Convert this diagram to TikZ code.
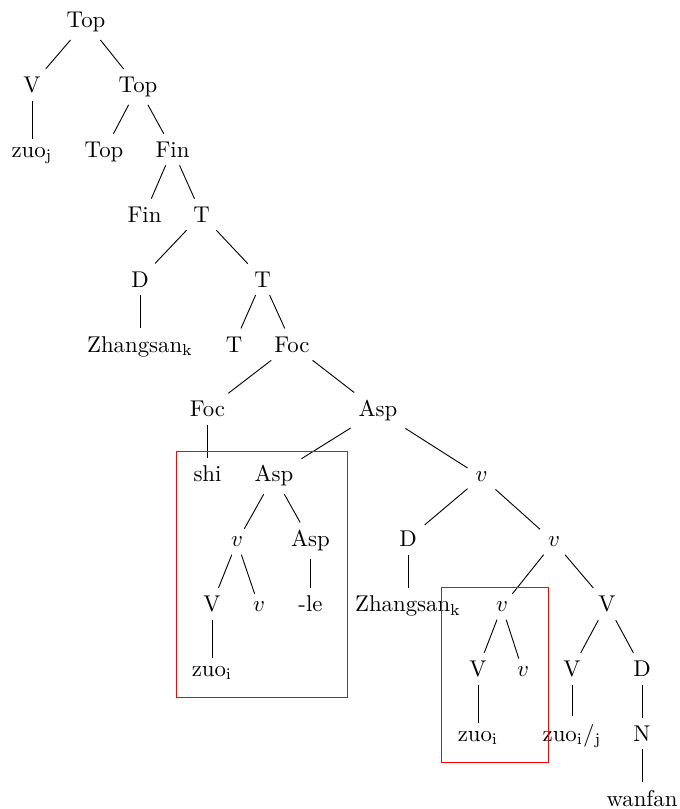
\documentclass[tikz,border=0pt]{standalone}
\usepackage{tikz}

\begin{document}
\begin{tikzpicture}[x=0.4386pt, y=-0.4386pt,
    cat/.style={anchor=base},
    box/.style={draw=red, line width=0.4pt}]
    \useasboundingbox (0,0) rectangle (679,809);
    % levels 0 - 6
    \node[cat] (top0) at (86,27.5) {Top};
    \node[cat] (v1) at (32,92.4) {V};
    \node[cat] (top1) at (138,92.4) {Top};
    \node[cat] (zuoj) at (32,157.3) {zuo$_{\mathrm{j}}$};
    \node[cat] (top2) at (104,157.3) {Top};
    \node[cat] (fin1) at (172.5,157.3) {Fin};
    \node[cat] (fin2) at (144.5,222.2) {Fin};
    \node[cat] (t1) at (201.5,222.2) {T};
    \node[cat] (d1) at (140,287.1) {D};
    \node[cat] (t2) at (262.5,287.1) {T};
    \node[cat] (zh1) at (140,352) {Zhangsan$_{\mathrm{k}}$};
    \node[cat] (t3) at (234,352) {T};
    \node[cat] (foc1) at (292,352) {Foc};
    \node[cat] (foc2) at (207.5,416.9) {Foc};
    \node[cat] (asp1) at (378,416.9) {Asp};
    % levels 7 - 12
    \node[cat] (shi) at (207.5,481.8) {shi};
    \node[cat] (asp2) at (274,481.8) {Asp};
    \node[cat] (vv1) at (481.5,481.8) {$v$};
    \node[cat] (vv2) at (237,546.7) {$v$};
    \node[cat] (asp3) at (310.5,546.7) {Asp};
    \node[cat] (d2) at (408,546.7) {D};
    \node[cat] (vv3) at (554,546.7) {$v$};
    \node[cat] (vb1) at (212,611.6) {V};
    \node[cat] (vv4) at (259,611.6) {$v$};
    \node[cat] (le) at (310.5,611.6) {-le};
    \node[cat] (zh2) at (408,611.6) {Zhangsan$_{\mathrm{k}}$};
    \node[cat] (vv5) at (502,611.6) {$v$};
    \node[cat] (vb2) at (607,611.6) {V};
    \node[cat] (zuoi1) at (212,676.5) {zuo$_{\mathrm{i}}$};
    \node[cat] (vb3) at (478,676.5) {V};
    \node[cat] (vv6) at (523,676.5) {$v$};
    \node[cat] (vb4) at (572,676.5) {V};
    \node[cat] (d3) at (642,676.5) {D};
    \node[cat] (zuoi2) at (478,741.4) {zuo$_{\mathrm{i}}$};
    \node[cat] (zuoij) at (572,741.4) {zuo$_{\mathrm{i}}$/$_{\mathrm{j}}$};
    \node[cat] (n1) at (642,741.4) {N};
    \node[cat] (wanfan) at (642,806.3) {wanfan};
    % branches
    \draw (top0) -- (v1);
    \draw (top0) -- (top1);
    \draw (v1) -- (zuoj);
    \draw (top1) -- (top2);
    \draw (top1) -- (fin1);
    \draw (fin1) -- (fin2);
    \draw (fin1) -- (t1);
    \draw (t1) -- (d1);
    \draw (t1) -- (t2);
    \draw (d1) -- (zh1);
    \draw (t2) -- (t3);
    \draw (t2) -- (foc1);
    \draw (foc1) -- (foc2);
    \draw (foc1) -- (asp1);
    \draw (foc2) -- (shi);
    \draw (asp1) -- (asp2);
    \draw (asp1) -- (vv1);
    \draw (asp2) -- (vv2);
    \draw (asp2) -- (asp3);
    \draw (vv1) -- (d2);
    \draw (vv1) -- (vv3);
    \draw (vv2) -- (vb1);
    \draw (vv2) -- (vv4);
    \draw (asp3) -- (le);
    \draw (d2) -- (zh2);
    \draw (vv3) -- (vv5);
    \draw (vv3) -- (vb2);
    \draw (vb1) -- (zuoi1);
    \draw (vv5) -- (vb3);
    \draw (vv5) -- (vv6);
    \draw (vb2) -- (vb4);
    \draw (vb2) -- (d3);
    \draw (vb3) -- (zuoi2);
    \draw (vb4) -- (zuoij);
    \draw (d3) -- (n1);
    \draw (n1) -- (wanfan);
    % red boxes
    \draw[box] (176,451) rectangle (347,697);
    \draw[box] (441,587) rectangle (548,762);
\end{tikzpicture}
\end{document}
